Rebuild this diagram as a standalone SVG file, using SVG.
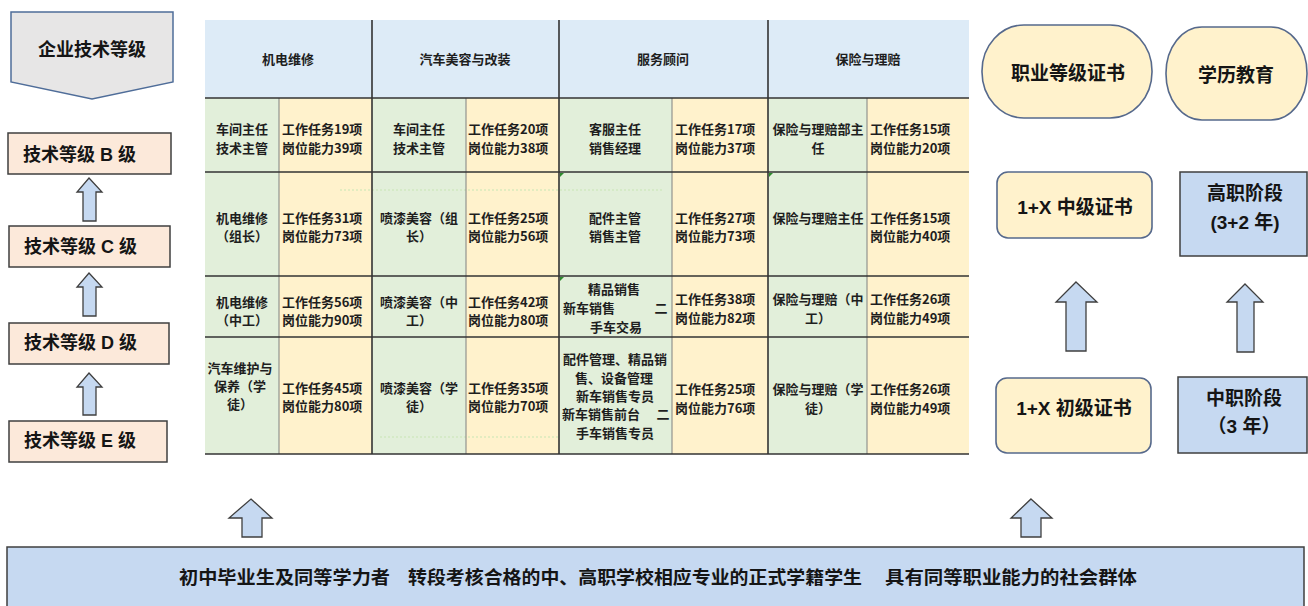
<svg xmlns="http://www.w3.org/2000/svg" width="1308" height="606" viewBox="0 0 1308 606">
<style>
.t{font-family:"Liberation Sans","Noto Sans CJK SC",sans-serif;font-weight:bold;fill:#151515;dominant-baseline:central}
.c{font-family:"Noto Sans CJK SC",sans-serif;font-size:13px;font-weight:bold;fill:#1e1e1e;dominant-baseline:central}
.m{text-anchor:middle}
.lvl{fill:#fce9da;stroke:#3f3f3f;stroke-width:1.5}
.arr{fill:#c6d9f1;stroke:#3f3f3f;stroke-width:1.3;stroke-linejoin:miter}
.cert{fill:#fff2cc;stroke:#56698c;stroke-width:1.6}
.edu{fill:#c6d9f1;stroke:#3f3f3f;stroke-width:1.5}
.g{fill:#e2efda}
.y{fill:#fff2cc}
.hd{stroke:#333;stroke-width:1.6}
.ln{stroke:#808080;stroke-width:1}
.dot{stroke:#c8e6b4;stroke-width:1.2;stroke-dasharray:2 2}
.tri{fill:#2e8b2e}
</style>

<g id="enterprise-level">
<path d="M11,12 H173 V82 L92,99 L11,82 Z" fill="#e7e6e6" stroke="#4f6d99" stroke-width="1.5"/>
<text class="t m" x="92" y="50" font-size="18">企业技术等级</text>
</g>
<g id="level-b"><rect class="lvl" x="8" y="133" width="163" height="41"/><text class="t" x="23" y="155" font-size="18">技术等级 B 级</text></g>
<g id="level-c"><rect class="lvl" x="9" y="226" width="161" height="41"/><text class="t" x="24" y="247" font-size="18">技术等级 C 级</text></g>
<g id="level-d"><rect class="lvl" x="9" y="323" width="160" height="41"/><text class="t" x="24" y="343" font-size="18">技术等级 D 级</text></g>
<g id="level-e"><rect class="lvl" x="9" y="421" width="158" height="41"/><text class="t" x="24" y="441" font-size="18">技术等级 E 级</text></g>

<g id="table">
<rect x="205" y="20" width="764" height="78" fill="#ddebf7"/>
<g>
<rect class="g" x="205" y="98" width="74" height="356"/>
<rect class="y" x="279" y="98" width="93" height="356"/>
<rect class="g" x="372" y="98" width="94" height="356"/>
<rect class="y" x="466" y="98" width="93" height="356"/>
<rect class="g" x="559" y="98" width="113" height="356"/>
<rect class="y" x="672" y="98" width="96" height="356"/>
<rect class="g" x="768" y="98" width="99" height="356"/>
<rect class="y" x="867" y="98" width="102" height="356"/>
</g>
<line class="dot" x1="340" y1="190" x2="663" y2="190"/>
<line class="dot" x1="380" y1="437" x2="560" y2="437"/>
<g>
<line class="ln" x1="279" y1="98" x2="279" y2="454"/>
<line class="ln" x1="466" y1="98" x2="466" y2="454"/>
<line class="ln" x1="672" y1="98" x2="672" y2="454"/>
<line class="ln" x1="867" y1="98" x2="867" y2="454"/>
<line class="hd" x1="372" y1="20" x2="372" y2="454"/>
<line class="hd" x1="559" y1="20" x2="559" y2="454"/>
<line class="hd" x1="768" y1="20" x2="768" y2="454"/>
<line class="hd" x1="205" y1="98" x2="969" y2="98"/>
<line class="hd" x1="205" y1="172" x2="969" y2="172"/>
<line class="hd" x1="205" y1="276" x2="969" y2="276"/>
<line class="hd" x1="205" y1="337" x2="969" y2="337"/>
<line class="hd" x1="205" y1="454" x2="969" y2="454"/>
</g>
<path class="tri" d="M560,173 h4 l-4,4 z M769,173 h4 l-4,4 z M560,277 h4 l-4,4 z"/>

<text class="c m" x="288" y="58" font-size="14">机电维修</text>
<text class="c m" x="465" y="58" font-size="14">汽车美容与改装</text>
<text class="c m" x="663" y="58" font-size="14">服务顾问</text>
<text class="c m" x="868" y="58" font-size="14">保险与理赔</text>

<text class="c m" x="242" y="128">车间主任</text><text class="c m" x="242" y="147">技术主管</text>
<text class="c" x="282" y="128">工作任务19项</text><text class="c" x="282" y="147">岗位能力39项</text>
<text class="c m" x="419" y="128">车间主任</text><text class="c m" x="419" y="147">技术主管</text>
<text class="c" x="468" y="128">工作任务20项</text><text class="c" x="468" y="147">岗位能力38项</text>
<text class="c m" x="615" y="128">客服主任</text><text class="c m" x="615" y="147">销售经理</text>
<text class="c" x="675" y="128">工作任务17项</text><text class="c" x="675" y="147">岗位能力37项</text>
<text class="c m" x="818" y="128">保险与理赔部主</text><text class="c m" x="818" y="147">任</text>
<text class="c" x="870" y="128">工作任务15项</text><text class="c" x="870" y="147">岗位能力20项</text>

<text class="c m" x="242" y="217">机电维修</text><text class="c m" x="242" y="235">（组长）</text>
<text class="c" x="282" y="217">工作任务31项</text><text class="c" x="282" y="235">岗位能力73项</text>
<text class="c m" x="419" y="217">喷漆美容（组</text><text class="c m" x="419" y="235">长）</text>
<text class="c" x="468" y="217">工作任务25项</text><text class="c" x="468" y="235">岗位能力56项</text>
<text class="c m" x="615" y="217">配件主管</text><text class="c m" x="615" y="235">销售主管</text>
<text class="c" x="675" y="217">工作任务27项</text><text class="c" x="675" y="235">岗位能力73项</text>
<text class="c m" x="818" y="217">保险与理赔主任</text>
<text class="c" x="870" y="217">工作任务15项</text><text class="c" x="870" y="235">岗位能力40项</text>

<text class="c m" x="242" y="301">机电维修</text><text class="c m" x="242" y="319">（中工）</text>
<text class="c" x="282" y="301">工作任务56项</text><text class="c" x="282" y="319">岗位能力90项</text>
<text class="c m" x="419" y="301">喷漆美容（中</text><text class="c m" x="419" y="319">工）</text>
<text class="c" x="468" y="301">工作任务42项</text><text class="c" x="468" y="319">岗位能力80项</text>
<text class="c m" x="614" y="288">精品销售</text>
<text class="c" x="563" y="307">新车销售</text><text class="c m" x="661" y="307">二</text>
<text class="c m" x="616" y="326">手车交易</text>
<text class="c" x="675" y="298">工作任务38项</text><text class="c" x="675" y="317">岗位能力82项</text>
<text class="c m" x="818" y="298">保险与理赔（中</text><text class="c m" x="818" y="317">工）</text>
<text class="c" x="870" y="298">工作任务26项</text><text class="c" x="870" y="317">岗位能力49项</text>

<text class="c m" x="240" y="367">汽车维护与</text><text class="c m" x="240" y="385">保养（学</text><text class="c m" x="240" y="403">徒）</text>
<text class="c" x="282" y="387">工作任务45项</text><text class="c" x="282" y="405">岗位能力80项</text>
<text class="c m" x="419" y="387">喷漆美容（学</text><text class="c m" x="419" y="405">徒）</text>
<text class="c" x="468" y="387">工作任务35项</text><text class="c" x="468" y="405">岗位能力70项</text>
<text class="c m" x="615" y="358">配件管理、精品销</text>
<text class="c m" x="614" y="377">售、设备管理</text>
<text class="c m" x="615" y="395">新车销售专员</text>
<text class="c" x="562" y="413">新车销售前台</text><text class="c m" x="663" y="413">二</text>
<text class="c m" x="615" y="432">手车销售专员</text>
<text class="c" x="675" y="388">工作任务25项</text><text class="c" x="675" y="407">岗位能力76项</text>
<text class="c m" x="818" y="388">保险与理赔（学</text><text class="c m" x="818" y="407">徒）</text>
<text class="c" x="870" y="388">工作任务26项</text><text class="c" x="870" y="407">岗位能力49项</text>
</g>

<g id="vocational-cert"><rect class="cert" x="982" y="25" width="170" height="93" rx="42" ry="46"/><text class="t m" x="1068" y="73" font-size="19">职业等级证书</text></g>
<g id="education"><rect class="cert" x="1166" y="27" width="141" height="93" rx="36" ry="46"/><text class="t m" x="1236" y="75" font-size="19">学历教育</text></g>
<g id="cert-mid"><rect class="cert" x="997" y="172" width="155" height="66" rx="11"/><text class="t m" x="1075" y="207" font-size="19">1+X 中级证书</text></g>
<g id="higher-voc"><rect class="edu" x="1180" y="172" width="127" height="84"/><text class="t m" x="1245" y="193" font-size="19">高职阶段</text><text class="t m" x="1245" y="222" font-size="19">(3+2 年)</text></g>
<g id="cert-basic"><rect class="cert" x="996" y="378" width="155" height="75" rx="11"/><text class="t m" x="1074" y="408" font-size="19">1+X 初级证书</text></g>
<g id="secondary-voc"><rect class="edu" x="1178" y="377" width="129" height="76"/><text class="t m" x="1244" y="398" font-size="19">中职阶段</text><text class="t m" x="1244" y="426" font-size="19">（3 年）</text></g>

<g id="sources">
<rect x="7" y="547" width="1297" height="64" fill="#c6d9f1" stroke="#3f3f3f" stroke-width="1.5"/>
<text class="t" x="179" y="578" font-size="18" textLength="211" lengthAdjust="spacingAndGlyphs">初中毕业生及同等学力者</text>
<text class="t" x="408" y="578" font-size="18" textLength="454" lengthAdjust="spacingAndGlyphs">转段考核合格的中、高职学校相应专业的正式学籍学生</text>
<text class="t" x="885" y="578" font-size="18" textLength="252" lengthAdjust="spacingAndGlyphs">具有同等职业能力的社会群体</text>
</g>

<g id="connectors">
<path class="arr" d="M89,178 L102,192 L96,192 L96,221 L83,221 L83,192 L77,192 Z"/>
<path class="arr" d="M89,273 L102,287 L96,287 L96,316 L83,316 L83,287 L77,287 Z"/>
<path class="arr" d="M89,373 L102,387 L96,387 L96,415 L83,415 L83,387 L77,387 Z"/>
<path class="arr" d="M1076,282 L1097,302 L1086,302 L1086,351 L1066,351 L1066,302 L1056,302 Z"/>
<path class="arr" d="M1245,284 L1263,302 L1254,302 L1254,352 L1237,352 L1237,302 L1227,302 Z"/>
<path class="arr" d="M251,499 L272,518 L262,518 L262,537 L242,537 L242,518 L229,518 Z"/>
<path class="arr" d="M1031,499 L1052,518 L1041,518 L1041,537 L1021,537 L1021,518 L1011,518 Z"/>
</g>
</svg>
